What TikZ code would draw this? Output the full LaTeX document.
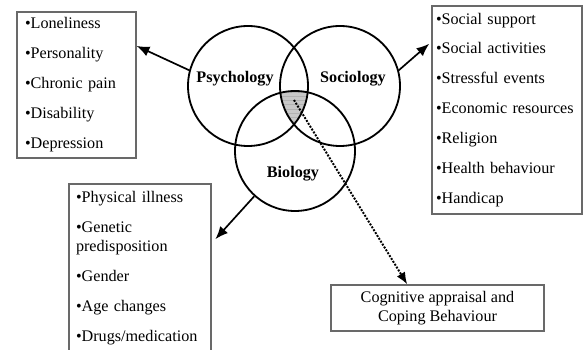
\documentclass[tikz,border=0pt]{standalone}
\usepackage{fontspec}
\setmainfont{Liberation Serif}
\usetikzlibrary{arrows.meta,positioning,calc,patterns,backgrounds}
\definecolor{frameGray}{RGB}{105,105,105}
\definecolor{coreGray}{RGB}{200,200,200}

\begin{document}
\begin{tikzpicture}[
    sphere/.style={draw, circle, line width=1.3pt, minimum size=3cm, inner sep=0pt},
    spherelabel/.style={font=\fontsize{11.5}{14}\selectfont\bfseries},
    factorbox/.style={draw=frameGray, line width=0.9pt, rectangle, align=left,
      font=\fontsize{11.5}{14}\selectfont, inner ysep=0pt},
    link/.style={line width=1.2pt, -{Latex[length=3.2mm,width=2.6mm]}},
    cue/.style={densely dotted, line width=1.4pt, -{Latex[length=3mm,width=2.4mm]}}
  ]
  \useasboundingbox (0,0) rectangle (14.6,8.75);
  % Circles
  \node[sphere] (psy) at (6.2,6.6) {};
  \node[sphere] (soc) at (8.5,6.6) {};
  \node[sphere] (bio) at (7.375,4.975) {};
  \node[spherelabel] (psylabel) at (5.875,6.775) {Psychology};
  \node[spherelabel] (soclabel) at (8.825,6.775) {Sociology};
  \node[spherelabel] (biolabel) at (7.325,4.4) {Biology};
  % Common area
  \begin{scope}[on background layer]
    \clip (psy.center) circle (1.5cm);
    \clip (soc.center) circle (1.5cm);
    \fill[coreGray] (bio.center) circle (1.5cm);
    \fill[pattern=horizontal lines, pattern color=gray!60] (bio.center) circle (1.5cm);
  \end{scope}
  \coordinate (core) at (7.35,6.25);
  % Factors
  \node[factorbox, text width=2.575cm, inner xsep=0.2cm, minimum height=3.65cm] (lpsy) at (1.9125,6.625)
    {•Loneliness\\[7.3pt]•Personality\\[7.3pt]•Chronic pain\\[7.3pt]•Disability\\[7.3pt]•Depression};
  \node[factorbox, text width=3.55cm, inner xsep=0.1cm, minimum height=5.2cm] (rsoc) at (12.675,6.0)
    {•Social support\\[7.3pt]•Social activities\\[7.3pt]•Stressful events\\[7.3pt]•Economic resources\\[7.3pt]•Religion\\[7.3pt]•Health behaviour\\[7.3pt]•Handicap};
  \node[factorbox, text width=3.2cm, inner xsep=0.175cm, minimum height=4.2cm] (lbio) at (3.5,2.05)
    {•Physical illness\\[7.3pt]•Genetic\\predisposition\\[7.3pt]•Gender\\[7.3pt]•Age changes\\[7.3pt]•Drugs/medication};
  \node[factorbox, align=center, minimum width=5.325cm, minimum height=1.15cm] (cope) at (10.9375,1.05)
    {Cognitive appraisal and\\Coping Behaviour};
  % Arrows
  \draw[link] (psy.165) -- (lpsy.33);
  \draw[link, shorten >=2pt] (soc.15) -- (rsoc.138);
  \draw[link, shorten >=4pt] (bio.228) -- (lbio.19);
  \draw[cue] (core) -- (cope.142);
\end{tikzpicture}
\end{document}
